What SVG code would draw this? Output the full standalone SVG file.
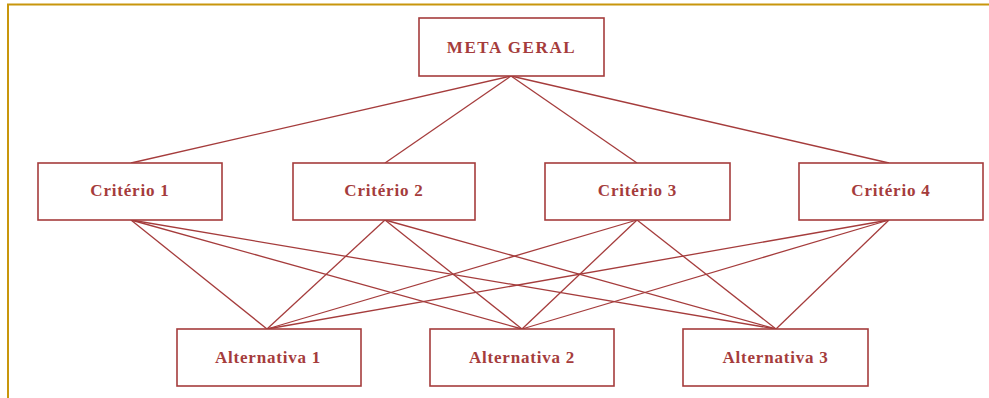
<svg xmlns="http://www.w3.org/2000/svg" width="989" height="398" viewBox="0 0 989 398">
  <style>
    .box { fill: #ffffff; stroke: #a53c3c; stroke-width: 1.6; }
    .lbl { font-family: "Liberation Serif", "Times New Roman", serif; font-weight: bold; font-size: 17px; fill: #a53c3c; text-anchor: middle; letter-spacing: 0.8px; }
    .edge { stroke: #a53c3c; stroke-width: 1.3; fill: none; }
    .frame { stroke: #c8960c; stroke-width: 2; fill: none; }
  </style>
  <rect width="989" height="398" fill="#ffffff"/>
  <!-- page frame, open to the right and bottom -->
  <path class="frame" d="M8,398 V4.5 H989"/>

  <g id="connectors">
    <!-- goal to criteria -->
    <line class="edge" x1="511" y1="76" x2="131" y2="163"/>
    <line class="edge" x1="511" y1="76" x2="385" y2="163"/>
    <line class="edge" x1="511" y1="76" x2="637" y2="163"/>
    <line class="edge" x1="511" y1="76" x2="889" y2="163"/>
    <!-- criteria to alternatives -->
    <line class="edge" x1="131" y1="220" x2="267" y2="329"/>
    <line class="edge" x1="131" y1="220" x2="522" y2="329"/>
    <line class="edge" x1="131" y1="220" x2="776" y2="329"/>
    <line class="edge" x1="385" y1="220" x2="267" y2="329"/>
    <line class="edge" x1="385" y1="220" x2="522" y2="329"/>
    <line class="edge" x1="385" y1="220" x2="776" y2="329"/>
    <line class="edge" x1="637" y1="220" x2="267" y2="329"/>
    <line class="edge" x1="637" y1="220" x2="522" y2="329"/>
    <line class="edge" x1="637" y1="220" x2="776" y2="329"/>
    <line class="edge" x1="889" y1="220" x2="267" y2="329"/>
    <line class="edge" x1="889" y1="220" x2="522" y2="329"/>
    <line class="edge" x1="889" y1="220" x2="776" y2="329"/>
  </g>

  <g id="meta-geral">
    <rect class="box" x="419" y="18" width="185" height="58"/>
    <text class="lbl" x="511.5" y="53" style="letter-spacing:1.6px">META GERAL</text>
  </g>

  <g id="criterio-1">
    <rect class="box" x="38" y="163" width="184" height="57"/>
    <text class="lbl" x="130" y="196">Critério 1</text>
  </g>
  <g id="criterio-2">
    <rect class="box" x="293" y="163" width="182" height="57"/>
    <text class="lbl" x="384" y="196">Critério 2</text>
  </g>
  <g id="criterio-3">
    <rect class="box" x="545" y="163" width="185" height="57"/>
    <text class="lbl" x="637.5" y="196">Critério 3</text>
  </g>
  <g id="criterio-4">
    <rect class="box" x="799" y="163" width="184" height="57"/>
    <text class="lbl" x="891" y="196">Critério 4</text>
  </g>

  <g id="alternativa-1">
    <rect class="box" x="177" y="329" width="184" height="57"/>
    <text class="lbl" x="268" y="363">Alternativa 1</text>
  </g>
  <g id="alternativa-2">
    <rect class="box" x="430" y="329" width="184" height="57"/>
    <text class="lbl" x="522" y="363">Alternativa 2</text>
  </g>
  <g id="alternativa-3">
    <rect class="box" x="683" y="329" width="185" height="57"/>
    <text class="lbl" x="775.5" y="363">Alternativa 3</text>
  </g>
</svg>
